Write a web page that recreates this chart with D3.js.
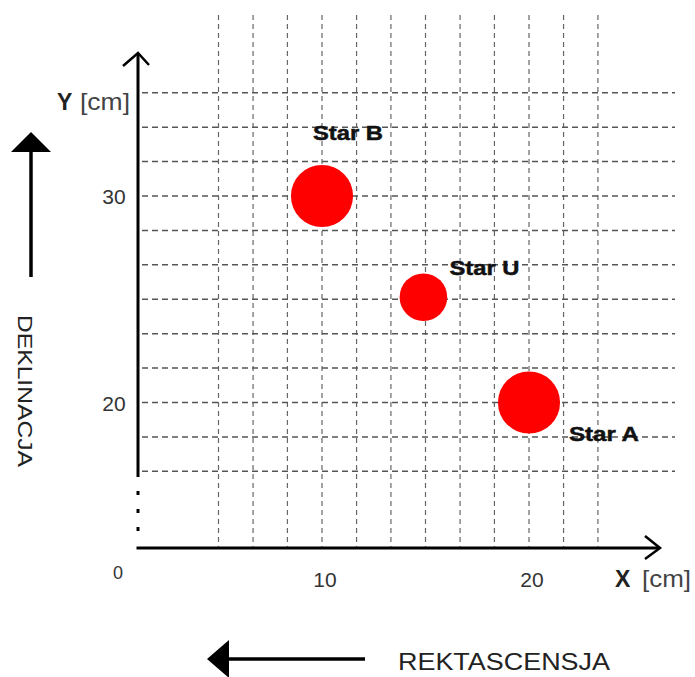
<!DOCTYPE html>
<html>
<head>
<meta charset="utf-8">
<script src="https://cdn.jsdelivr.net/npm/d3@7"></script>
<style>
  html, body { margin: 0; padding: 0; background: #fff; }
  svg { display: block; font-family: "Liberation Sans", Arial, sans-serif; }
</style>
</head>
<body>
<svg id="chart" width="695" height="677"></svg>
<script>
// ---- data ----
const starNames = ["Star B", "Star U", "Star A"];
const starX = [10, 14.9, 20];          // X [cm]
const starY = [30, 25.1, 20];          // Y [cm]
const starDiameter = [3.0, 2.3, 3.0];  // cm
const xTickValues = [10, 20];
const yTickValues = [30, 20];
const gridXValues = [5, 6.67, 8.33, 10, 11.67, 13.33, 15, 16.67, 18.33, 20, 21.67, 23.33];
const gridYValues = [16.67, 18.33, 20, 21.67, 23.33, 25, 26.67, 28.33, 30, 31.67, 33.33, 35];

// ---- layout ----
const svg = d3.select("#chart");
const x = d3.scaleLinear().domain([10, 20]).range([322, 529]);
const y = d3.scaleLinear().domain([20, 30]).range([402.5, 196]);
const axisLeft = 138, axisBottom = 548;
const labelOffsets = [[-9, -56], [26, -22], [40, 38]];

// grid
svg.append("g").selectAll("line").data(gridXValues).join("line")
  .attr("x1", d => x(d)).attr("x2", d => x(d))
  .attr("y1", 15).attr("y2", axisBottom)
  .attr("stroke", "#666").attr("stroke-width", 1.2)
  .attr("stroke-dasharray", "5,4");
svg.append("g").selectAll("line").data(gridYValues).join("line")
  .attr("x1", 142).attr("x2", 675)
  .attr("y1", d => y(d)).attr("y2", d => y(d))
  .attr("stroke", "#555").attr("stroke-width", 1.3)
  .attr("stroke-dasharray", "6,4");

// axes
const ax = svg.append("g").attr("stroke", "#000").attr("fill", "none");
ax.append("line").attr("x1", axisLeft).attr("x2", axisLeft).attr("y1", 54).attr("y2", 477).attr("stroke-width", 3);
[493, 511, 529].forEach(v => ax.append("rect").attr("x", axisLeft - 1.5).attr("y", v - 2).attr("width", 3).attr("height", 4).attr("fill", "#000").attr("stroke", "none"));
ax.append("line").attr("x1", axisLeft - 1.5).attr("x2", 659).attr("y1", axisBottom).attr("y2", axisBottom).attr("stroke-width", 3);
ax.append("path").attr("d", `M${axisLeft - 15},66 L${axisLeft},53 L${axisLeft + 11},65`).attr("stroke-width", 2.5);
ax.append("path").attr("d", `M645,536 L660,${axisBottom} L645,559`).attr("stroke-width", 2.5);

// tick labels
const tickStyle = s => s.attr("fill", "#333").attr("font-size", 21).attr("text-anchor", "middle");
svg.append("g").selectAll("text").data(xTickValues).join("text")
  .call(tickStyle).attr("x", d => x(d) + 3).attr("y", 587).text(d => d);
svg.append("g").selectAll("text").data(yTickValues).join("text")
  .call(tickStyle).attr("x", 114).attr("y", d => y(d) + 8).text(d => d);
svg.append("text").call(tickStyle).attr("font-size", 18).attr("x", 118).attr("y", 579).text("0");

// axis titles
svg.append("text").attr("x", 615).attr("y", 587).attr("font-size", 23).attr("font-weight", "bold").attr("fill", "#222").text("X");
svg.append("text").attr("x", 642).attr("y", 587).attr("font-size", 24).attr("fill", "#444")
  .attr("textLength", 49).attr("lengthAdjust", "spacingAndGlyphs").text("[cm]");
svg.append("text").attr("x", 57).attr("y", 110).attr("font-size", 23).attr("font-weight", "bold").attr("fill", "#222").text("Y");
svg.append("text").attr("x", 80).attr("y", 110).attr("font-size", 24).attr("fill", "#444")
  .attr("textLength", 50).attr("lengthAdjust", "spacingAndGlyphs").text("[cm]");

// stars
svg.append("g").selectAll("circle").data(starNames).join("circle")
  .attr("cx", (d, i) => x(starX[i]))
  .attr("cy", (d, i) => y(starY[i]))
  .attr("r", (d, i) => (x(10 + starDiameter[i]) - x(10)) / 2)
  .attr("fill", "#ff0000");
svg.append("g").selectAll("text").data(starNames).join("text")
  .attr("x", (d, i) => x(starX[i]) + labelOffsets[i][0])
  .attr("y", (d, i) => y(starY[i]) + labelOffsets[i][1])
  .attr("font-size", 21).attr("font-weight", "bold").attr("fill", "#111")
  .attr("stroke", "#111").attr("stroke-width", 0.5)
  .attr("textLength", 70).attr("lengthAdjust", "spacingAndGlyphs")
  .text(d => d);

// direction arrows
svg.append("line").attr("x1", 31).attr("x2", 31).attr("y1", 150).attr("y2", 277).attr("stroke", "#000").attr("stroke-width", 3.5);
svg.append("path").attr("d", "M31,132 L51,152 L11,152 Z").attr("fill", "#000");
svg.append("text").attr("transform", "translate(18,315) rotate(90)")
  .attr("font-size", 21).attr("fill", "#222")
  .attr("textLength", 152).attr("lengthAdjust", "spacingAndGlyphs").text("DEKLINACJA");

svg.append("line").attr("x1", 225).attr("x2", 365).attr("y1", 659).attr("y2", 659).attr("stroke", "#000").attr("stroke-width", 3.5);
svg.append("path").attr("d", "M207,659 L229,640 L229,678 Z").attr("fill", "#000");
svg.append("text").attr("x", 398).attr("y", 670)
  .attr("font-size", 23).attr("fill", "#222")
  .attr("textLength", 212).attr("lengthAdjust", "spacingAndGlyphs").text("REKTASCENSJA");
</script>
</body>
</html>
